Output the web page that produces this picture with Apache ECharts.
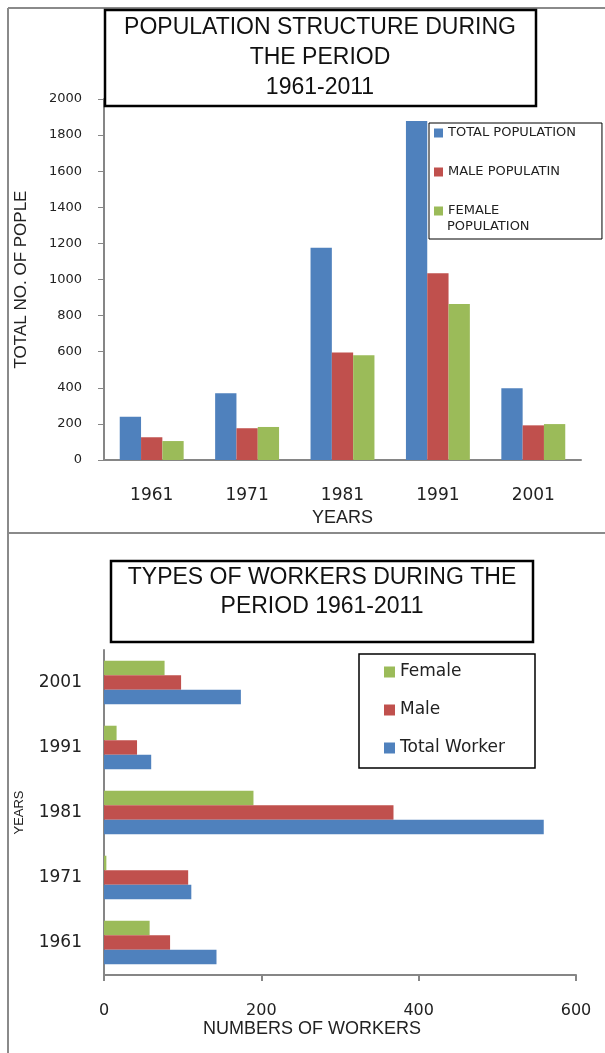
<!DOCTYPE html>
<html>
<head>
<meta charset="utf-8">
<script src="https://cdn.jsdelivr.net/npm/echarts@6/dist/echarts.min.js"></script>
<style>
    html, body { margin: 0; padding: 0; background: #fff; }
    #main { width: 605px; height: 1053px; }
</style>
</head>
<body>
<div id="main"></div>
<script>
    // population chart
    let popYears = ['1961', '1971', '1981', '1991', '2001'];
    let totalPopulation = [240, 370, 1176, 1878, 397];
    let malePopulation = [126, 176, 595, 1034, 192];
    let femalePopulation = [105, 183, 580, 864, 199];

    // workers chart
    let workerYears = ['1961', '1971', '1981', '1991', '2001'];
    let totalWorkers = [143, 111, 559, 60, 174];
    let maleWorkers = [84, 107, 368, 42, 98];
    let femaleWorkers = [58, 3, 190, 16, 77];

    let blue = '#4F81BD';
    let red = '#C0504D';
    let green = '#9BBB59';
    let axisGray = '#868686';
    let labelFont = 'DejaVu Sans';
    let titleFont = 'Liberation Sans';

    let myChart = echarts.init(document.getElementById('main'));

    let option = {
        animation: false,
        backgroundColor: '#fff',
        grid: [
            {left: 104, right: 24, top: 99, bottom: 593},
            {left: 104, right: 29, top: 650, bottom: 78}
        ],
        legend: [
            {
                orient: 'vertical',
                left: 429,
                top: 123,
                itemWidth: 9,
                itemHeight: 9,
                itemGap: 21,
                icon: 'rect',
                padding: [1, 26, 19, 5],
                borderColor: '#000',
                borderWidth: 1,
                textStyle: {fontFamily: labelFont, fontSize: 13, color: '#222', lineHeight: 18},
                data: ['TOTAL POPULATION', 'MALE POPULATIN', 'FEMALE POPULATION'],
                // second line of the last item is drawn below as text
                formatter: function (name) {
                    return name === 'FEMALE POPULATION' ? 'FEMALE' : name;
                }
            },
            {
                orient: 'vertical',
                left: 359,
                top: 654,
                itemWidth: 11,
                itemHeight: 11,
                itemGap: 20,
                icon: 'rect',
                padding: [9, 30, 11, 25],
                borderColor: '#000',
                borderWidth: 1.5,
                textStyle: {fontFamily: labelFont, fontSize: 17, color: '#222', lineHeight: 18},
                data: ['Female', 'Male', 'Total Worker']
            }
        ],
        xAxis: [
            {
                gridIndex: 0,
                type: 'category',
                data: popYears,
                name: 'YEARS',
                nameLocation: 'middle',
                nameGap: 49,
                nameTextStyle: {fontFamily: titleFont, fontSize: 18, color: '#222'},
                axisLine: {lineStyle: {color: axisGray, width: 2}},
                axisTick: {show: false},
                axisLabel: {fontFamily: labelFont, fontSize: 17, color: '#222', margin: 27}
            },
            {
                gridIndex: 1,
                type: 'value',
                min: 0,
                max: 600,
                interval: 200,
                name: 'NUMBERS OF WORKERS',
                nameLocation: 'middle',
                nameGap: 45,
                nameTextStyle: {fontFamily: titleFont, fontSize: 18, color: '#222', padding: [0, 56, 0, 0]},
                splitLine: {show: false},
                axisLine: {show: true, lineStyle: {color: axisGray, width: 2}},
                axisTick: {show: true, length: 6, lineStyle: {color: axisGray, width: 2}},
                axisLabel: {fontFamily: labelFont, fontSize: 16, color: '#222', margin: 28}
            }
        ],
        yAxis: [
            {
                gridIndex: 0,
                type: 'value',
                min: 0,
                max: 2000,
                interval: 200,
                name: 'TOTAL NO. OF POPLE',
                nameLocation: 'middle',
                nameGap: 74,
                nameTextStyle: {fontFamily: titleFont, fontSize: 17, color: '#222'},
                splitLine: {show: false},
                axisLine: {show: true, lineStyle: {color: axisGray, width: 2}},
                axisTick: {show: true, length: 6, lineStyle: {color: axisGray, width: 1}},
                axisLabel: {
                    fontFamily: labelFont, fontSize: 13, color: '#222', margin: 22,
                    formatter: function (value) {
                        return String(value);
                    }
                }
            },
            {
                gridIndex: 1,
                type: 'category',
                data: workerYears,
                name: 'YEARS',
                nameLocation: 'middle',
                nameGap: 78,
                nameTextStyle: {fontFamily: titleFont, fontSize: 13, color: '#222'},
                axisLine: {lineStyle: {color: axisGray, width: 2}},
                axisTick: {show: false},
                axisLabel: {fontFamily: labelFont, fontSize: 17, color: '#222', margin: 22}
            }
        ],
        series: [
            {name: 'TOTAL POPULATION', type: 'bar', xAxisIndex: 0, yAxisIndex: 0, data: totalPopulation,
                itemStyle: {color: blue}, barGap: '0%', barCategoryGap: '33%'},
            {name: 'MALE POPULATIN', type: 'bar', xAxisIndex: 0, yAxisIndex: 0, data: malePopulation,
                itemStyle: {color: red}, barGap: '0%', barCategoryGap: '33%'},
            {name: 'FEMALE POPULATION', type: 'bar', xAxisIndex: 0, yAxisIndex: 0, data: femalePopulation,
                itemStyle: {color: green}, barGap: '0%', barCategoryGap: '33%'},
            // horizontal bars: first series sits on top of each band
            {name: 'Female', type: 'bar', xAxisIndex: 1, yAxisIndex: 1, data: femaleWorkers,
                itemStyle: {color: green}, barGap: '0%', barCategoryGap: '33%'},
            {name: 'Male', type: 'bar', xAxisIndex: 1, yAxisIndex: 1, data: maleWorkers,
                itemStyle: {color: red}, barGap: '0%', barCategoryGap: '33%'},
            {name: 'Total Worker', type: 'bar', xAxisIndex: 1, yAxisIndex: 1, data: totalWorkers,
                itemStyle: {color: blue}, barGap: '0%', barCategoryGap: '33%'}
        ],
        graphic: [
            // outer frame and separator
            {type: 'line', z: 100, shape: {x1: 8, y1: 8, x2: 605, y2: 8}, style: {stroke: '#8a8a8a', lineWidth: 2}},
            {type: 'line', z: 100, shape: {x1: 8, y1: 8, x2: 8, y2: 1053}, style: {stroke: '#8a8a8a', lineWidth: 2}},
            {type: 'line', z: 100, shape: {x1: 8, y1: 533, x2: 605, y2: 533}, style: {stroke: '#8a8a8a', lineWidth: 2}},
            // legend second line
            {type: 'text', z: 100, x: 447, y: 227,
                style: {text: 'POPULATION', fill: '#222', font: '13px "DejaVu Sans"', verticalAlign: 'middle'}},
            // title boxes
            {type: 'rect', z: 100, shape: {x: 105, y: 10, width: 431, height: 96},
                style: {fill: '#fff', stroke: '#000', lineWidth: 2.5}},
            {type: 'text', z: 101, x: 320, y: 58,
                style: {text: 'POPULATION STRUCTURE DURING\nTHE PERIOD\n1961-2011', fill: '#111',
                    font: '23px "Liberation Sans"', lineHeight: 30, align: 'center', verticalAlign: 'middle'}},
            {type: 'rect', z: 100, shape: {x: 111, y: 561, width: 422, height: 81},
                style: {fill: '#fff', stroke: '#000', lineWidth: 2.5}},
            {type: 'text', z: 101, x: 322, y: 592,
                style: {text: 'TYPES OF WORKERS DURING THE\nPERIOD 1961-2011', fill: '#111',
                    font: '23px "Liberation Sans"', lineHeight: 29, align: 'center', verticalAlign: 'middle'}}
        ]
    };

    myChart.setOption(option);
</script>
</body>
</html>
